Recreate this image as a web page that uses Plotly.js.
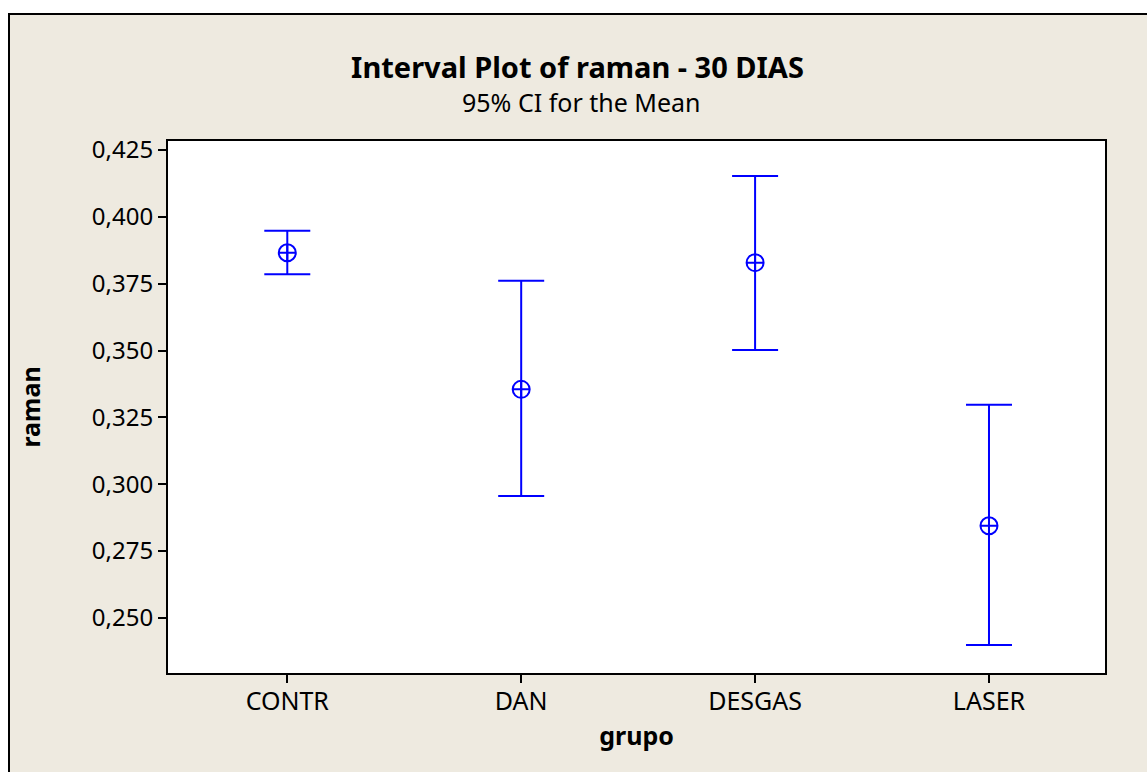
<!DOCTYPE html>
<html>
<head>
<meta charset="utf-8">
<script src="https://cdn.plot.ly/plotly-3.0.1.min.js"></script>
<style>html,body{margin:0;padding:0;background:#ffffff;}#chart{width:1147px;height:772px;}</style>
</head>
<body>
<div id="chart"></div>
<script>
const categories = ["CONTR", "DAN", "DESGAS", "LASER"];
const means = [0.3866, 0.3355, 0.3829, 0.2845];
const upper = [0.3948, 0.3761, 0.4153, 0.3297];
const lower = [0.3786, 0.2956, 0.3502, 0.2399];
const yTickVals = [0.250, 0.275, 0.300, 0.325, 0.350, 0.375, 0.400, 0.425];
const yTickText = ["0,250", "0,275", "0,300", "0,325", "0,350", "0,375", "0,400", "0,425"];

const FONT = 'Tahoma, "Noto Sans", "DejaVu Sans", sans-serif';
const W = 1147, H = 772;
const M = {l: 168, r: 42, t: 141, b: 99};
const pw = W - M.l - M.r, ph = H - M.t - M.b;
const px = v => (v - M.l) / pw;
const py = v => (H - M.b - v) / ph;

const trace = {
  type: 'scatter',
  mode: 'markers',
  x: categories.map((c, i) => i),
  y: means,
  marker: {symbol: 'circle-cross-open', size: 17, color: '#0000FF', line: {width: 2, color: '#0000FF'}},
  error_y: {
    type: 'data', symmetric: false,
    array: upper.map((u, i) => u - means[i]),
    arrayminus: lower.map((l, i) => means[i] - l),
    color: '#0000FF', thickness: 2, width: 23
  },
  hoverinfo: 'x+y',
  showlegend: false
};

const layout = {
  width: W, height: H,
  margin: M,
  paper_bgcolor: '#EEEAE0',
  plot_bgcolor: '#FFFFFF',
  font: {family: FONT, color: '#000000', size: 24},
  title: {
    text: '<b>Interval Plot of raman - 30 DIAS</b>',
    font: {family: FONT, size: 29, color: '#000000'},
    x: 0.5035, xref: 'container', xanchor: 'center',
    y: 1 - 68 / H, yref: 'container', yanchor: 'middle'
  },
  annotations: [{
    text: '95% CI for the Mean', xref: 'paper', yref: 'paper',
    x: px(581), y: py(102), xanchor: 'center', yanchor: 'middle',
    showarrow: false, font: {family: FONT, size: 25, color: '#000000'}
  }],
  xaxis: {
    range: [-0.51, 3.496],
    tickvals: [0, 1, 2, 3], ticktext: categories,
    ticks: 'outside', ticklen: 8, tickwidth: 2, tickcolor: '#000',
    ticklabelstandoff: -3,
    showline: true, linewidth: 2, linecolor: '#000', mirror: true,
    showgrid: false, zeroline: false,
    tickfont: {family: FONT, size: 25},
    title: {text: '<b>grupo</b>', font: {family: FONT, size: 25}, standoff: 11}
  },
  yaxis: {
    range: [0.2294, 0.4284],
    tickvals: yTickVals, ticktext: yTickText,
    ticks: 'outside', ticklen: 8, tickwidth: 2, tickcolor: '#000',
    showline: true, linewidth: 2, linecolor: '#000', mirror: true,
    showgrid: false, zeroline: false,
    tickfont: {family: FONT, size: 24},
    title: {text: '<b>raman</b>', font: {family: FONT, size: 25}, standoff: 44}
  },
  shapes: [
    {type: 'rect', xref: 'paper', yref: 'paper', layer: 'below',
     x0: px(0), x1: px(8), y0: py(H + 5), y1: py(-5), fillcolor: '#FFFFFF', line: {width: 0}},
    {type: 'rect', xref: 'paper', yref: 'paper', layer: 'below',
     x0: px(0), x1: px(W + 5), y0: py(13), y1: py(-5), fillcolor: '#FFFFFF', line: {width: 0}},
    {type: 'line', xref: 'paper', yref: 'paper', layer: 'below',
     x0: px(9), x1: px(9), y0: py(H + 5), y1: py(13), line: {width: 2, color: '#000'}},
    {type: 'line', xref: 'paper', yref: 'paper', layer: 'below',
     x0: px(8), x1: px(W + 5), y0: py(14), y1: py(14), line: {width: 2, color: '#000'}}
  ]
};

Plotly.newPlot('chart', [trace], layout, {displayModeBar: false, staticPlot: true});
</script>
</body>
</html>
